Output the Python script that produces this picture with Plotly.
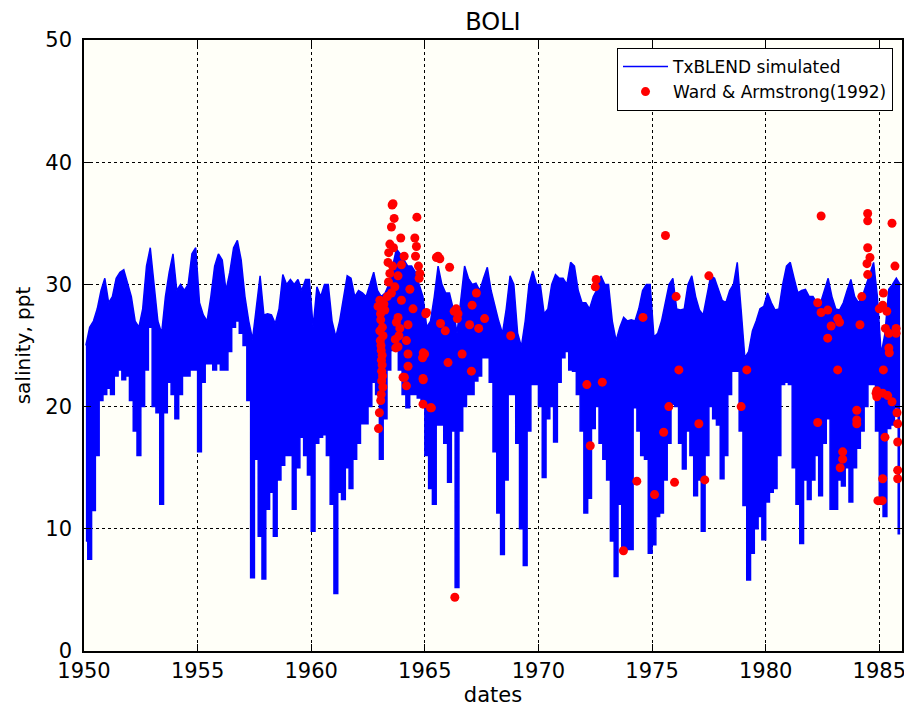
import plotly.graph_objects as go

# ---------------- data ----------------
years = list(range(1950, 1986))
# simulated salinity envelope, six (bimonthly) values per year: upper and lower
sim_hi = [
    [25, 26.5, 27, 28, 29.5, 30.5],      # 1950
    [28.5, 29, 30.5, 31, 31.2, 30],      # 1951
    [29, 27, 26.5, 28, 31.5, 33],        # 1952
    [30, 27, 26, 29, 31, 32.5],          # 1953
    [29.5, 30, 29.5, 30, 32.5, 33],      # 1954
    [28.5, 27.5, 27, 29, 31.5, 32.5],    # 1955
    [32, 29.5, 31, 33, 33.6, 32],        # 1956
    [29, 27, 25.5, 28, 30.7, 27.5],      # 1957
    [27.6, 27.5, 26.8, 28, 30.8, 30],    # 1958
    [30.4, 30, 30.4, 29.5, 30.4, 30.4],  # 1959
    [26.5, 29.8, 29, 30, 30, 27],        # 1960
    [25.7, 27, 29, 30.7, 30.5, 29],      # 1961
    [29.5, 29.3, 29, 30, 31, 29.5],      # 1962
    [29, 29.3, 30, 31.5, 32.9, 32.5],    # 1963
    [32, 31.5, 31.5, 31, 30, 29],        # 1964
    [26.5, 27, 29, 31.5, 30, 29.3],      # 1965
    [29.3, 28, 26, 29, 31.5, 30.5],      # 1966
    [30, 30.1, 29.5, 30.5, 31.4, 29.5],  # 1967
    [28.2, 27, 26, 28, 30.7, 30],        # 1968
    [26, 24.9, 27, 30, 31.1, 30],        # 1969
    [30, 27.6, 28, 30, 30.8, 30.5],      # 1970
    [30.5, 30, 31.8, 31.5, 29.5, 28.5],  # 1971
    [28.5, 28, 29, 29.6, 30.7, 30],      # 1972
    [30, 27, 25.4, 26.5, 27.3, 27],      # 1973
    [27.1, 27, 28, 29.5, 30, 30],        # 1974
    [25.7, 26, 27, 28.5, 30, 30.5],      # 1975
    [28, 27.9, 28, 30, 30.7, 29],        # 1976
    [27.9, 27.5, 29, 30.7, 30.5, 29.5],  # 1977
    [28.7, 28.5, 29.5, 30, 31.8, 28],    # 1978
    [24, 24.5, 26.2, 27, 28, 28.2],      # 1979
    [29.3, 28.5, 27.9, 28, 30, 31.5],    # 1980
    [31.8, 30.5, 29.3, 29.5, 29.6, 29],  # 1981
    [29, 28.5, 28.5, 29.5, 30.5, 29],    # 1982
    [28, 27.9, 28.5, 29.5, 30.4, 29],    # 1983
    [28.5, 29, 30, 31, 31.8, 29],        # 1984
    [24.3, 26, 29.6, 30, 30.5, 30],      # 1985
]
sim_lo = [
    [9, 7.5, 11.5, 16, 20.5, 21],        # 1950
    [21.5, 21, 22.5, 23, 22.2, 22.5],    # 1951
    [20.5, 18, 16, 20, 23, 26.5],        # 1952
    [20, 19.5, 12, 19.5, 22, 21],        # 1953
    [19, 21, 22.5, 22.5, 23, 23],        # 1954
    [16.3, 22, 23.5, 23.5, 23, 23.5],    # 1955
    [23, 23, 24.5, 26.5, 27, 26],        # 1956
    [25, 20.5, 6, 15.7, 9.4, 5.9],       # 1957
    [11.6, 13, 9.4, 14, 15.2, 16],       # 1958
    [16, 11.6, 15, 17.5, 16, 14.4],      # 1959
    [9.8, 17, 17.5, 17.7, 16, 12],       # 1960
    [4.7, 13, 12.4, 15, 13.3, 15.7],     # 1961
    [17, 18.6, 18.6, 20, 22, 21],        # 1962
    [15.7, 19, 23, 24.6, 24.6, 23],      # 1963
    [21, 19.9, 21, 21, 20.7, 20],        # 1964
    [16, 13.3, 12, 18.5, 18.5, 17],      # 1965
    [13.8, 18, 5.2, 18, 20, 21],         # 1966
    [21, 22.1, 22.5, 24, 24, 22],        # 1967
    [16.3, 11.3, 7.9, 14, 21, 21],       # 1968
    [17, 10, 7, 18, 21.8, 21.8],         # 1969
    [20, 14.2, 19, 20, 17.1, 22],        # 1970
    [24, 24.5, 23, 22.9, 21, 18],        # 1971
    [11.3, 12.5, 18.2, 20, 17, 15.7],    # 1972
    [14, 9, 6.1, 12, 8.5, 8.3],          # 1973
    [8.3, 19.9, 18, 16, 15.7, 8],        # 1974
    [8.7, 11, 11.3, 14, 17, 20.2],       # 1975
    [20, 17, 14.9, 18, 16, 12.7],        # 1976
    [14, 9.8, 16, 20, 19, 18.5],         # 1977
    [14.1, 16, 21, 22.9, 22.9, 18],      # 1978
    [11.9, 5.8, 8, 10, 11, 9.1],         # 1979
    [12.2, 13, 13.3, 16, 21.8, 22],      # 1980
    [21.8, 15, 12, 8.8, 14, 12.4],       # 1981
    [14, 16, 12.7, 17, 19, 11.6],        # 1982
    [11.6, 14, 13.5, 15, 12.2, 15],      # 1983
    [16.6, 18, 20, 21.8, 21.8, 18],      # 1984
    [12, 11, 18.2, 18.5, 19.9, 9.6],     # 1985
]

# Ward & Armstrong (1992) observations: decimal year, salinity (ppt)
obs_year = [
    1962.94, 1962.96, 1963.00, 1963.02, 1963.02, 1963.04, 1963.06, 1963.08, 1963.09, 1963.10,
    1963.10, 1963.08, 1963.05, 1963.07, 1963.12, 1963.12, 1963.14, 1963.15, 1963.06, 1963.13,
    1963.16, 1963.24, 1963.20, 1963.35, 1963.38, 1963.40, 1963.41, 1963.46, 1963.46, 1963.53,
    1963.53, 1963.56, 1963.60, 1963.65, 1963.62, 1963.58, 1963.68, 1963.75, 1963.82, 1963.82,
    1963.82, 1963.90, 1963.94, 1963.97, 1963.97, 1964.04, 1964.09, 1964.19, 1964.19, 1964.26,
    1964.26, 1964.26, 1964.34, 1964.48, 1964.56, 1964.59, 1964.63, 1964.65, 1964.72, 1964.75,
    1964.78, 1964.92, 1964.99, 1964.92, 1964.93, 1964.90, 1964.93, 1965.04, 1965.07, 1965.25,
    1965.29, 1963.70, 1963.72, 1963.86, 1964.10,
    1965.51, 1965.58, 1965.66, 1965.69, 1965.90, 1966.02, 1966.09, 1966.29, 1966.32, 1966.43,
    1966.46, 1966.38, 1966.64, 1966.97, 1967.05, 1967.08, 1967.27, 1967.37, 1967.63, 1968.78,
    1972.13, 1972.28, 1972.50, 1972.54, 1972.81, 1973.74, 1974.33, 1974.60, 1975.11, 1975.51,
    1975.59, 1975.74, 1975.99, 1976.06, 1976.18, 1977.06, 1977.32, 1977.50, 1978.92, 1979.17,
    1982.29, 1982.29, 1982.44, 1982.44, 1982.73, 1982.73, 1982.88, 1983.17, 1983.25, 1983.17,
    1983.28, 1983.39, 1983.39, 1984.01, 1984.01, 1984.01, 1984.15, 1984.23, 1984.46, 1984.49,
    1984.49, 1984.49, 1984.49, 1984.59, 1984.86, 1984.89, 1984.89, 1984.94, 1985.00, 1985.13,
    1985.15, 1985.15, 1985.15, 1985.18, 1985.18, 1985.25, 1985.27, 1985.33, 1985.37, 1985.42,
    1985.42, 1985.44, 1985.56, 1985.56, 1985.69, 1985.74, 1985.74, 1985.78, 1985.81, 1985.81,
    1985.81, 1985.81,
]
obs_salinity = [
    28.2, 18.2, 19.5, 28.7, 26.2, 25.4, 27.1, 24.6, 23.8, 22.9,
    22.1, 21.0, 27.6, 25.0, 24.2, 23.4, 22.5, 21.6, 20.5, 26.5,
    25.8, 27.9, 28.4, 29.0, 31.8, 30.2, 32.6, 33.3, 30.9, 34.7,
    29.3, 36.5, 36.6, 35.4, 33.0, 31.5, 29.8, 26.9, 30.7, 27.3,
    24.9, 26.4, 33.8, 31.6, 28.7, 22.4, 32.3, 25.4, 21.7, 26.7,
    24.3, 23.3, 29.6, 28.0, 33.8, 32.3, 33.1, 35.5, 31.5, 30.5,
    30.9, 22.3, 24.3, 20.2, 24.4, 24.0, 22.2, 27.6, 27.7, 19.9,
    19.9, 25.5, 24.8, 25.8, 22.4,
    32.2, 32.3, 32.1, 26.8, 26.2, 23.6, 31.4, 27.8, 4.4, 27.2,
    27.6, 28.0, 24.3, 26.7, 22.9, 28.3, 29.3, 26.4, 27.2, 25.8,
    21.8, 16.8, 29.8, 30.4, 22.0, 8.2, 13.9, 27.3, 12.8, 17.9,
    34.0, 20.0, 13.8, 29.0, 23.0, 18.6, 14.0, 30.7, 20.0, 23.0,
    28.5, 18.7, 35.6, 27.7, 27.9, 25.6, 26.6, 27.2, 26.9, 23.0,
    15.0, 16.3, 15.7, 19.7, 18.9, 18.6, 26.7, 29.0, 31.7, 35.8,
    35.2, 33.0, 30.8, 32.2, 21.1, 21.3, 20.8, 12.3, 28.0, 12.3,
    28.3, 21.1, 14.1, 29.3, 23.0, 17.5, 26.4, 27.8, 20.9, 26.0,
    24.8, 24.4, 35.0, 20.4, 31.5, 26.4, 26.0, 19.5, 18.6, 17.1,
    14.8, 14.1,
]

x_ticks = [1950, 1955, 1960, 1965, 1970, 1975, 1980, 1985]
y_ticks = [0, 10, 20, 30, 40, 50]

# ---------------- build series ----------------
t = []
hi = []
lo = []
for yr, hrow, lrow in zip(years, sim_hi, sim_lo):
    n = len(hrow)
    for k in range(n):
        t.append(yr + (k + 0.5) / n)
        hi.append(hrow[k])
        lo.append(lrow[k])

BLUE = "#0000ff"
RED = "#ff0000"
FONT = "DejaVu Sans"

fig = go.Figure()
fig.add_trace(go.Scatter(
    x=t, y=hi, mode="lines", name="TxBLEND simulated",
    line=dict(color=BLUE, width=1.5), showlegend=True,
))
fig.add_trace(go.Scatter(
    x=t, y=lo, mode="lines", name="TxBLEND simulated",
    line=dict(color=BLUE, width=1.5, shape="hvh"), fill="tonexty", fillcolor=BLUE,
    showlegend=False, hoverinfo="skip",
))
fig.add_trace(go.Scatter(
    x=obs_year, y=obs_salinity, mode="markers", name="Ward & Armstrong(1992)",
    marker=dict(color=RED, size=9, line=dict(width=0)),
))

axis_common = dict(
    showline=True, linecolor="black", linewidth=1.5, mirror="ticks",
    ticks="inside", ticklen=7, tickwidth=1, tickcolor="black",
    showgrid=True, gridcolor="black", gridwidth=1, griddash="dot",
    zeroline=False, automargin=False,
    tickfont=dict(family=FONT, size=21, color="black"),
)

# the page body adds an 8px offset; size the figure so the plot area lands
# at the same pixels as the reference (x 84..902, y 40..643)
fig.update_layout(
    width=904, height=699,
    margin=dict(l=76, r=10, t=32, b=56),
    paper_bgcolor="white", plot_bgcolor="#fffff8",
    font=dict(family=FONT, color="black"),
    title=dict(text="BOLI", x=0.5, xref="paper", y=0.980, yref="container",
               yanchor="middle", font=dict(family=FONT, size=24, color="black")),
    xaxis=dict(range=[1950, 1986], tickvals=x_ticks, ticktext=[str(v) for v in x_ticks],
               title=dict(text="dates", font=dict(family=FONT, size=21), standoff=2),
               ticklabelstandoff=0, **axis_common),
    yaxis=dict(range=[0, 50], tickvals=y_ticks,
               title=dict(text="salinity, ppt", font=dict(family=FONT, size=20), standoff=9),
               ticklabelstandoff=6, **axis_common),
    legend=dict(x=0.989, y=0.987, xanchor="right", yanchor="top",
                bgcolor="white", bordercolor="black", borderwidth=1,
                font=dict(family=FONT, size=17, color="black"),
                tracegroupgap=0, itemwidth=45, traceorder="normal"),
    showlegend=True,
)

fig.write_html("out.html")
